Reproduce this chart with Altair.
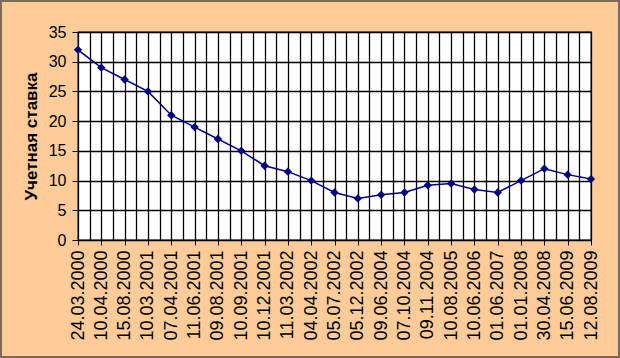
import altair as alt
import pandas as pd

dates = ["24.03.2000", "10.04.2000", "15.08.2000", "10.03.2001", "07.04.2001",
         "11.06.2001", "09.08.2001", "10.09.2001", "10.12.2001", "11.03.2002",
         "04.04.2002", "05.07.2002", "05.12.2002", "09.06.2004", "07.10.2004",
         "09.11.2004", "10.08.2005", "10.06.2006", "01.06.2007", "01.01.2008",
         "30.04.2008", "15.06.2009", "12.08.2009"]
rates = [32, 29, 27, 25, 21, 19, 17, 15, 12.5, 11.5, 10, 8, 7, 7.6, 8, 9.2,
         9.5, 8.5, 8, 10, 12, 11, 10.25]
y_ticks = [0, 5, 10, 15, 20, 25, 30, 35]

df = pd.DataFrame({"idx": list(range(len(dates))), "date": dates, "rate": rates})

n = len(dates) - 1
grid_vals = [i / 2 for i in range(2 * n + 1)]
label_arr = "[" + ",".join("'" + d + "'" for d in dates) + "]"

W, H = 513, 208

x_enc = alt.X(
    "idx:Q",
    scale=alt.Scale(domain=[0, n], nice=False, zero=False),
    axis=alt.Axis(
        values=grid_vals,
        labelExpr=label_arr + "[datum.value] || ''",
        labelAngle=270,
        labelAlign="right",
        labelBaseline="middle",
        labelFont="Liberation Sans",
        labelFontSize=18,
        labelColor="#000000",
        labelPadding=5,
        labelOverlap=False,
        labelBound=False,
        labelFlush=False,
        tickSize=5,
        tickColor="#000000",
        tickOpacity={"condition": {"test": "datum.value % 1 === 0", "value": 1}, "value": 0},
        domainColor="#000000",
        grid=True,
        gridColor="#000000",
        gridWidth=1.3,
        title=None,
    ),
)

y_enc = alt.Y(
    "rate:Q",
    scale=alt.Scale(domain=[0, 35], nice=False),
    axis=alt.Axis(
        values=y_ticks,
        labelFont="Liberation Sans",
        labelFontSize=16,
        labelColor="#000000",
        labelPadding=6,
        tickSize=6,
        tickColor="#000000",
        domainColor="#000000",
        grid=True,
        gridColor="#000000",
        gridWidth=1.3,
        title="Учетная ставка",
        titleFont="Liberation Sans",
        titleFontSize=17,
        titleFontWeight="bold",
        titleColor="#000000",
        titlePadding=8,
    ),
)

base = alt.Chart(df).encode(x=x_enc, y=y_enc)

line = base.mark_line(color="#000080", strokeWidth=1.5)
pts = base.mark_point(shape="diamond", filled=True, size=70, color="#000080",
                      opacity=1)

frame = alt.Chart(pd.DataFrame({"a": [0]})).mark_rect(
    fill=None, stroke="#7a6a5a", strokeWidth=2, clip=False
).encode(
    x=alt.value(-77), x2=alt.value(W + 28),
    y=alt.value(-31), y2=alt.value(H + 117),
)

chart = alt.layer(line, pts, frame).properties(
    width=W, height=H,
    background="#FFCC99",
    padding={"left": 78, "top": 32, "right": 29, "bottom": 118},
    autosize=alt.AutoSizeParams(type="none"),
).configure_view(
    fill="#FFFFFF", stroke="#000000", strokeWidth=1.3
)

chart.save("out.html", embed_options={"renderer": "svg", "actions": False})
